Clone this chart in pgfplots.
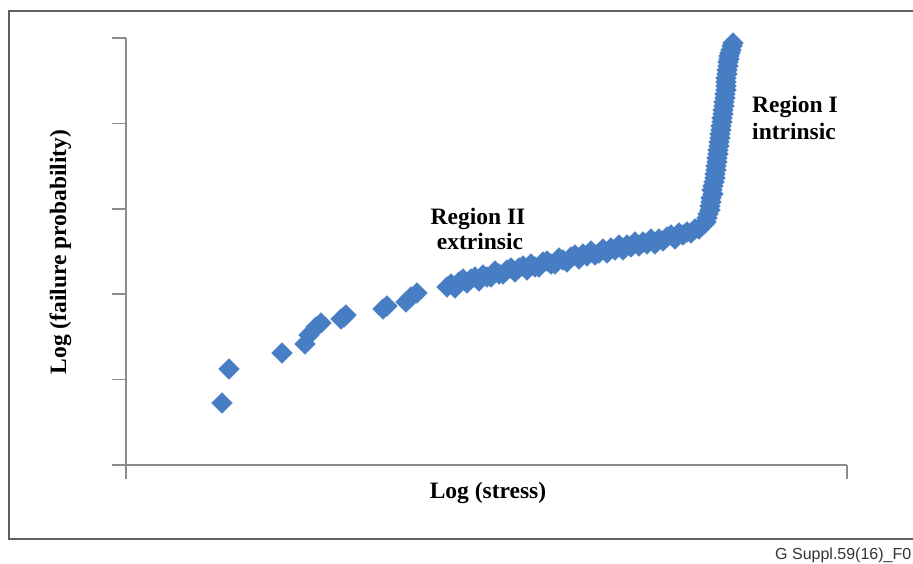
\documentclass[border=0pt]{standalone}
\usepackage{fontspec}
\setmainfont{Liberation Serif}
\newfontfamily\sansf{Liberation Sans}
\usepackage{pgfplots}
\pgfplotsset{compat=1.18}
\definecolor{ptblue}{RGB}{70,125,195}
\definecolor{axgray}{RGB}{140,140,140}
\definecolor{framegray}{RGB}{95,95,95}
\begin{document}
\begin{tikzpicture}[x=1pt,y=1pt]
\useasboundingbox (0,0) rectangle (913,563);
% outer frame
\draw[framegray, line width=2pt] (925,552) -- (9,552) -- (9,24) -- (925,24);
\begin{axis}[
  at={(126pt,98pt)}, anchor=south west,
  scale only axis, width=721pt, height=427pt,
  xmin=0, xmax=721, ymin=0, ymax=427,
  axis x line*=bottom, axis y line*=left,
  axis line style={axgray, line width=1.6pt},
  xtick={0,721}, ytick={0,85.4,170.8,256.2,341.6,427},
  xticklabels={}, yticklabels={},
  tick align=outside, major tick length=14pt,
  tick style={axgray, line width=1.6pt},
  clip=false,
]
\addplot[only marks, mark=square*, mark size=7.3pt,
  mark options={rotate=45, fill=ptblue, draw=ptblue}] coordinates {
(96,62) (103,96) (156,112) (179,121) (183,130) (190,138) (195,142)
(215,146) (218,148) (220,150) (257,156) (261,159) (280,163) (285,168) (291,172)
(321,178) (325,181) (329,177) (333,183) (337,186) (341,182) (345,186) (349,188)
(353,184) (357,190) (361,188) (365,188) (369,194) (373,191) (377,191) (381,195)
(385,197) (389,193) (393,197) (397,199) (401,195) (405,201) (409,198) (413,198)
(417,203) (421,204) (425,201) (429,201) (433,207) (437,205) (441,203) (445,208)
(449,210) (453,206) (457,211) (461,209) (465,214) (469,210) (473,212) (477,216)
(481,212) (485,217) (489,215) (493,220) (497,215) (501,220) (505,218) (509,223)
(513,219) (517,223) (521,221) (525,226) (529,221) (533,226) (537,224) (541,228)
(545,230) (549,226) (553,232) (557,230) (561,233) (565,232) (569,236) (573,236)
(576,240) (578,241)
(580,243) (581,247) (582,251) (584,255) (584,259) (585,263) (585,267) (587,271)
(586,275) (587,279) (588,283) (589,287) (589,291) (590,295) (590,299) (591,303)
(591,307) (592,311) (592,315) (593,319) (593,323) (594,327) (594,331) (595,335)
(595,339) (596,343) (596,347) (597,351) (597,355) (598,359) (598,363) (599,367)
(599,371) (600,375) (600,379) (600,383) (600,387) (601,391) (601,395) (602,399)
(602,403) (603,406) (603,409) (604,412) (605,415) (606,419) (607,422)
};
\end{axis}
% annotations
\node[font=\fontsize{23.5}{27}\selectfont\bfseries, anchor=base] at (795,450) {Region I};
\node[font=\fontsize{23.5}{27}\selectfont\bfseries, anchor=base] at (794,423) {intrinsic};
\node[font=\fontsize{23.5}{27}\selectfont\bfseries, anchor=base] at (478,338) {Region II};
\node[font=\fontsize{23.5}{27}\selectfont\bfseries, anchor=base] at (480,313) {extrinsic};
% axis titles
\node[font=\fontsize{23.5}{27}\selectfont\bfseries, anchor=base] at (488,65) {Log (stress)};
\node[font=\fontsize{23.5}{27}\selectfont\bfseries, rotate=90, anchor=base] at (66,311) {Log (failure probability)};
% figure id
\node[font=\sansf\fontsize{16}{19}\selectfont, anchor=base west, inner sep=0pt, text=black!80] at (775,4) {G Suppl.59(16)\_F0};
\end{tikzpicture}
\end{document}
